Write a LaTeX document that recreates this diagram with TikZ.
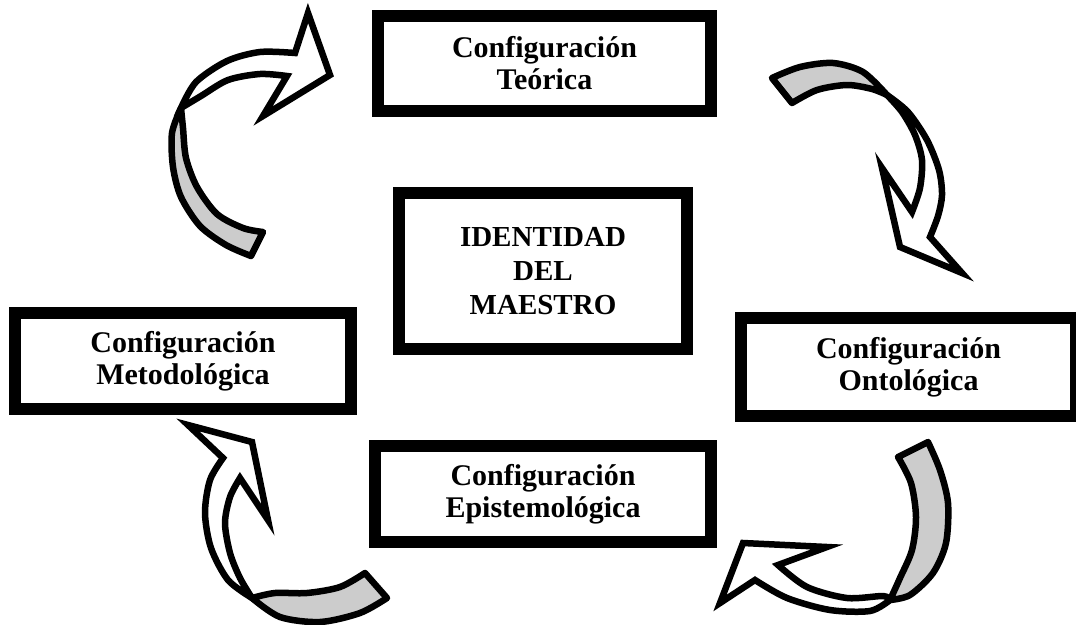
\documentclass[tikz,border=0pt]{standalone}
\usepackage{fontspec}
\setmainfont{Liberation Serif}

\begin{document}
\begin{tikzpicture}[x=1pt, y=-1pt,
    caja/.style={draw, line width=12pt, fill=white, inner sep=0pt, align=center,
      font=\fontsize{30}{32}\selectfont\bfseries},
    cara/.style={draw, line width=6.5pt, fill=white, line join=miter},
    dorso/.style={draw, line width=6.5pt, fill=black!20, line join=round}]
    \useasboundingbox (0,0) rectangle (1076,624);

    \node[caja, minimum width=333pt, minimum height=95pt] (teorica) at (544.5,63.5) {Configuración\\Teórica};
    \node[caja, minimum width=288pt, minimum height=156pt,
      font=\fontsize{29}{34}\selectfont\bfseries] (identidad) at (543,271) {IDENTIDAD\\DEL\\MAESTRO};
    \node[caja, minimum width=336pt, minimum height=96pt] (metodo) at (183,361) {Configuración\\Metodológica};
    \node[caja, minimum width=335pt, minimum height=98pt] (onto) at (908.5,367) {Configuración\\Ontológica};
    \node[caja, minimum width=336pt, minimum height=96pt] (episte) at (543,494) {Configuración\\Epistemológica};

    \filldraw[dorso] plot[smooth] coordinates {(181,108) (172,133) (173,167) (181,197) (200,226) (226,245) (251,256)}
      -- (263,232) -- plot[smooth] coordinates {(263,232) (243,228) (217,214) (197,187) (186,158) (183,128) (181,108)} -- cycle;
    \filldraw[cara] plot[smooth] coordinates {(181,108) (196,82) (227,61) (260,52) (295,53)}
      -- (308,13) -- (330,75) -- (263,116) -- plot[smooth] coordinates {(287,76) (260,74) (228,80) (201,96) (181,108)} -- cycle;

    \filldraw[dorso] plot[smooth] coordinates {(887,95) (863,72) (833,63) (800,67) (772,78)}
      -- (792,103) -- plot[smooth] coordinates {(792,103) (817,90) (847,85) (872,89) (887,95)} -- cycle;
    \filldraw[cara] plot[smooth] coordinates {(887,95) (908,112) (927,140) (939,170) (942,195) (938,216) (930,237)}
      -- (962,273) -- (900,247) -- (882,168) -- plot[smooth] coordinates {(912,212) (920,188) (922,160) (915,135) (902,112) (887,95)} -- cycle;

    \filldraw[dorso] plot[smooth] coordinates {(890,600) (910,595) (933,573) (946,543) (948,503) (940,470) (928,442)}
      -- (898,457) -- plot[smooth] coordinates {(898,457) (911,483) (916,517) (912,550) (900,578) (890,600)} -- cycle;
    \filldraw[cara] plot[smooth] coordinates {(890,600) (870,611) (830,610) (787,598) (755,580)}
      -- (720,603) -- (743,543) -- (827,547) -- plot[smooth] coordinates {(778,565) (807,587) (847,598) (883,596) (890,600)} -- cycle;

    \filldraw[dorso] plot[smooth] coordinates {(252,598) (280,617) (320,622) (360,613) (387,598)}
      -- (365,573) -- plot[smooth] coordinates {(365,573) (340,587) (307,593) (275,593) (252,598)} -- cycle;
    \filldraw[cara] plot[smooth] coordinates {(252,598) (228,580) (211,548) (205,513) (210,480) (223,458)}
      -- (188,425) -- (252,442) -- (268,520) -- plot[smooth] coordinates {(240,478) (230,497) (225,523) (230,553) (240,578) (252,598)} -- cycle;
\end{tikzpicture}
\end{document}
